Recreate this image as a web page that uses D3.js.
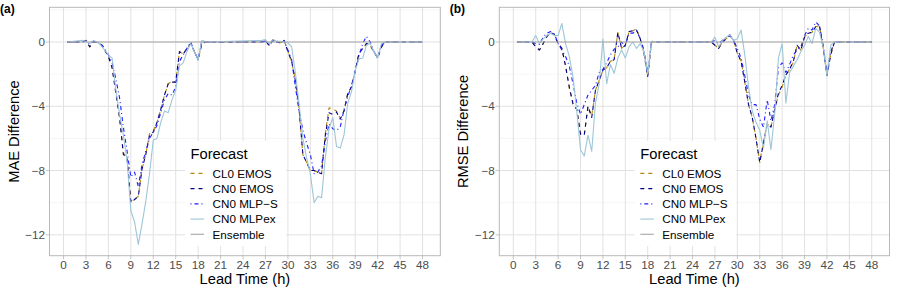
<!DOCTYPE html>
<html><head><meta charset="utf-8">
<script src="https://cdn.jsdelivr.net/npm/d3@7"></script>
<style>
body{margin:0;background:#fff}
svg{display:block}
text{font-family:"Liberation Sans",Arial,Helvetica,sans-serif}
</style>
</head><body>
<svg id="chart" width="899" height="295"></svg>
<script>
// ---------------- DATA ----------------
const leadTime = [0.5,
  2.5,3,3.5,4,4.5,5,5.5,6,6.5,7,7.5,8,8.5,9,9.5,10,10.5,11,11.5,12,12.5,13,13.5,14,14.5,15,15.5,16,16.5,17,17.5,18,18.5,19,
  26.5,27,27.5,28,28.5,29,29.5,30,30.5,31,31.5,32,32.5,33,33.5,34,34.5,35,35.5,36,36.5,37,37.5,38,38.5,39,39.5,40,40.5,41,41.5,42,42.5,43,
  48];

const seriesNames = ["CL0 EMOS", "CN0 EMOS", "CN0 MLP\u2212S", "CN0 MLPex", "Ensemble"];
const xTicks = [0,3,6,9,12,15,18,21,24,27,30,33,36,39,42,45,48];
const yTicks = [0,-4,-8,-12];
const yMinor = [2,-2,-6,-10];

// Panel (a): MAE difference
const maeCL0 = [0,
  0,0.1,-0.3,0.0,0.0,-0.15,-0.5,-0.9,-1.6,-3.1,-4.7,-6.9,-7.2,-9.9,-9.8,-9.6,-7.9,-7.0,-5.7,-5.55,-5.0,-4.2,-3.3,-2.6,-2.45,-2.5,-0.6,-0.75,-0.4,-0.1,-0.6,-1.1,-0.05,0,
  0,0.1,-0.2,0.15,0.0,-0.05,0.1,-0.6,-1.2,-2.4,-4.2,-7.0,-7.5,-8.0,-8.0,-8.1,-8.2,-5.7,-4.1,-4.15,-4.3,-4.75,-4.3,-3.2,-2.8,-1.8,-0.7,-0.4,-0.1,-0.2,-0.6,-1.0,-0.3,0,
  0];
const maeCN0 = [0,
  0,0.1,-0.3,0.0,0.0,-0.15,-0.5,-0.9,-1.6,-3.2,-4.7,-7.0,-7.2,-10.0,-9.8,-9.6,-7.9,-7.0,-5.8,-5.6,-5.0,-4.2,-3.3,-2.6,-2.5,-2.5,-0.6,-0.75,-0.4,-0.1,-0.6,-1.1,-0.1,0,
  0,0.1,-0.25,0.15,0.0,-0.05,0.1,-0.6,-1.2,-2.4,-4.2,-7.0,-7.5,-8.0,-8.0,-8.1,-8.2,-5.8,-4.4,-4.5,-4.35,-4.8,-4.3,-3.2,-2.8,-1.8,-0.7,-0.4,-0.1,-0.2,-0.6,-1.0,-0.3,0,
  0];
const maeMLPS = [0,
  0,0.05,-0.15,0.05,0,-0.1,-0.4,-0.8,-1.3,-2.3,-3.5,-5.3,-6.8,-8.4,-8.1,-9.0,-7.6,-6.8,-6.0,-5.6,-5.2,-4.4,-3.6,-3.2,-3.3,-2.8,-1.2,-0.8,-0.4,0.0,-0.6,-1.1,0.1,0,
  0,0.05,-0.15,0.1,0.05,0,0.05,-0.5,-1.1,-2.8,-4.3,-5.5,-6.3,-7.0,-8.2,-8.1,-7.7,-6.2,-5.1,-5.4,-5.5,-5.3,-4.2,-3.4,-2.7,-1.8,-0.9,-0.1,0.35,0.0,-0.6,-1.0,-0.2,0,
  0];
const maeMLPex = [0,
  0.1,0.05,-0.1,0.1,0.0,-0.2,-0.5,-0.8,-1.0,-3.0,-4.5,-5.8,-7.4,-10.5,-11.2,-12.6,-11.3,-9.9,-8.2,-6.1,-6.0,-5.0,-4.3,-4.4,-3.6,-3.0,-1.5,-1.3,-0.6,-0.1,-0.6,-1.1,0.1,0,
  0.1,0.15,-0.1,0.15,0.05,0.05,0.0,-0.05,-0.3,-1.9,-3.9,-6.0,-7.2,-8.2,-10.0,-9.6,-9.7,-7.2,-5.4,-4.7,-6.5,-6.6,-5.8,-3.8,-3.1,-1.8,-1.05,-1.0,-0.2,-0.1,-0.6,-1.0,-0.1,0,
  0];

// Panel (b): RMSE difference
const rmseCL0 = [0,
  0,-0.3,-0.5,-0.1,0.35,0.6,0.45,-0.1,-0.4,-1.5,-2.9,-3.9,-4.2,-5.7,-5.8,-4.0,-4.6,-3.0,-2.4,-1.75,-1.6,-1.2,-1.1,0.6,-0.4,-0.2,0.65,0.7,0.8,0.2,-0.7,-2.15,0.0,0,
  0,-0.2,-0.4,0.0,0.2,0.4,0.1,-0.7,-1.2,-2.5,-3.9,-4.7,-6.0,-7.5,-6.2,-5.1,-5.3,-4.2,-3.3,-2.8,-2.05,-1.7,-1.25,-0.2,-0.5,0.3,0.55,0.6,0.95,1.0,-0.4,-2.1,-0.8,0,
  0];
const rmseCN0 = [0,
  0,-0.3,-0.5,-0.1,0.35,0.6,0.45,-0.1,-0.4,-1.5,-2.8,-3.85,-4.2,-5.75,-5.8,-4.0,-4.7,-3.0,-2.4,-1.75,-1.6,-1.2,-1.1,0.6,-0.4,-0.2,0.65,0.7,0.75,0.2,-0.7,-2.15,0.0,0,
  0,-0.2,-0.4,0.0,0.2,0.4,0.1,-0.7,-1.2,-2.5,-3.9,-4.7,-6.0,-7.5,-6.3,-5.1,-5.3,-4.2,-3.2,-2.7,-2.05,-1.7,-1.2,-0.2,-0.5,0.3,0.55,0.6,0.95,1.0,-0.4,-2.1,-0.8,0,
  0];
const rmseMLPS = [0,
  0,-0.1,-0.15,0.3,0.55,0.65,0.5,-0.1,-0.5,-0.9,-1.5,-2.6,-3.8,-4.5,-3.9,-3.3,-3.0,-2.7,-1.9,-1.7,-1.3,-0.8,-0.45,-0.3,0.0,-0.25,0.55,0.55,0.7,0.2,-0.5,-1.95,0.05,0,
  0,0.1,-0.1,0.1,0.3,0.45,0.1,-0.4,-1.0,-2.1,-3.3,-3.9,-3.9,-4.8,-5.3,-3.6,-4.9,-3.9,-1.6,-1.3,-1.9,-1.4,-0.8,-0.5,-0.3,0.4,0.85,0.75,1.25,1.0,-0.2,-2.0,-0.6,0,
  0];
const rmseMLPex = [0,
  0,0.4,-0.1,0.2,0.4,0.55,0.4,0.4,1.15,-0.1,-0.9,-2.2,-4.3,-6.7,-7.1,-5.8,-6.8,-3.8,-2.6,0.2,-2.6,-1.4,-1.95,-1.0,-0.5,-1.0,-0.3,0.0,-0.4,-0.1,-0.6,-2.0,0.05,0,
  0,0.3,-0.3,0.1,0.3,0.45,0.1,0.2,0.75,-0.8,-2.8,-4.3,-5.0,-5.5,-6.6,-4.9,-6.7,-4.5,-1.0,-0.1,-3.8,-1.9,-1.5,-1.1,-0.6,-0.2,0.35,-0.1,0.85,0.6,-0.3,-2.1,-0.2,0,
  0];

// Ensemble is the reference: difference is zero over the whole lead-time range
const ensembleLead = [0.5, 48];
const ensembleDiff = [0, 0];

// ---------------- STYLE ----------------
const colors = ["#B8860B", "#00008B", "#1E1EFF", "#9DC6D8", "#A6A6A6"];
const dashes = ["4,4", "4,4", "1,3,4,3", null, null];

const svg = d3.select("#chart");

function drawPanel(opts) {
  const {left, right, top, bottom, label, ytitle, vals} = opts;
  const x = d3.scaleLinear().domain([-1.875, 50.375]).range([left, right]);
  const y = d3.scaleLinear().domain([-13.30, 2.16]).range([bottom, top]);
  const g = svg.append("g");

  g.append("rect").attr("x", left).attr("y", top).attr("width", right-left).attr("height", bottom-top).attr("fill", "#fff");

  // minor horizontal grid
  g.selectAll(".ymin").data(yMinor).enter().append("line")
    .attr("x1", left).attr("x2", right).attr("y1", d=>y(d)).attr("y2", d=>y(d))
    .attr("stroke", "#F0F0F0").attr("stroke-width", 0.7);
  // major grid
  g.selectAll(".ymaj").data(yTicks).enter().append("line")
    .attr("x1", left).attr("x2", right).attr("y1", d=>y(d)).attr("y2", d=>y(d))
    .attr("stroke", "#E2E2E2").attr("stroke-width", 1);
  g.selectAll(".xmaj").data(xTicks).enter().append("line")
    .attr("y1", top).attr("y2", bottom).attr("x1", d=>x(d)).attr("x2", d=>x(d))
    .attr("stroke", "#E2E2E2").attr("stroke-width", 1);

  const clipId = "clip" + label.replace(/\W/g, "");
  svg.append("clipPath").attr("id", clipId).append("rect")
    .attr("x", left).attr("y", top).attr("width", right-left).attr("height", bottom-top);

  const line = d3.line().x(d=>x(d[0])).y(d=>y(d[1]));
  const lg = g.append("g").attr("clip-path", `url(#${clipId})`);
  const seriesData = [
    d3.zip(leadTime, vals[0]),
    d3.zip(leadTime, vals[1]),
    d3.zip(leadTime, vals[2]),
    d3.zip(leadTime, vals[3]),
    d3.zip(ensembleLead, ensembleDiff)
  ];
  seriesData.forEach((d, i) => {
    lg.append("path").datum(d).attr("d", line)
      .attr("fill", "none").attr("stroke", colors[i]).attr("stroke-width", 1.1)
      .attr("stroke-linejoin", "round")
      .attr("stroke-dasharray", dashes[i]);
  });

  // legend
  const lx = left + 135.5;
  g.append("rect").attr("x", lx).attr("y", 141).attr("width", 101).attr("height", 105).attr("fill", "#fff");
  g.append("text").attr("x", lx + 5.5).attr("y", 158.5).attr("font-size", "14.7px").attr("fill", "#000").text("Forecast");
  seriesNames.forEach((n, i) => {
    const by = 177.7 + i * 15.22;
    g.append("line").attr("x1", lx + 5.5).attr("x2", lx + 19).attr("y1", by - 4.3).attr("y2", by - 4.3)
      .attr("stroke", colors[i]).attr("stroke-width", 1.1).attr("stroke-dasharray", dashes[i]);
    g.append("text").attr("x", lx + 27.5).attr("y", by).attr("font-size", "11.7px").attr("fill", "#000").text(n);
  });

  // border
  g.append("rect").attr("x", left).attr("y", top).attr("width", right-left).attr("height", bottom-top)
    .attr("fill", "none").attr("stroke", "#B8B8B8").attr("stroke-width", 1);

  // axes ticks & labels
  g.selectAll(".xt").data(xTicks).enter().append("line")
    .attr("x1", d=>x(d)).attr("x2", d=>x(d)).attr("y1", bottom).attr("y2", bottom + 3.6)
    .attr("stroke", "#B8B8B8").attr("stroke-width", 0.8);
  g.selectAll(".xl").data(xTicks).enter().append("text")
    .attr("x", d=>x(d)).attr("y", 269.3).attr("text-anchor", "middle")
    .attr("font-size", "11.7px").attr("fill", "#4D4D4D").text(d=>d);
  g.selectAll(".yt").data(yTicks).enter().append("line")
    .attr("x1", left - 3.6).attr("x2", left).attr("y1", d=>y(d)).attr("y2", d=>y(d))
    .attr("stroke", "#B8B8B8").attr("stroke-width", 0.8);
  g.selectAll(".yl").data(yTicks).enter().append("text")
    .attr("x", left - 4.5).attr("y", d=>y(d) + 4.2).attr("text-anchor", "end")
    .attr("font-size", "11.7px").attr("fill", "#4D4D4D").text(d => d < 0 ? "\u2212" + Math.abs(d) : d);

  // titles
  g.append("text").attr("x", (left+right)/2).attr("y", 283.5).attr("text-anchor", "middle")
    .attr("font-size", "14.7px").attr("fill", "#000").text("Lead Time (h)");
  g.append("text").attr("transform", `translate(${left - 31},${(top+bottom)/2}) rotate(-90)`)
    .attr("text-anchor", "middle").attr("font-size", "14.7px").attr("fill", "#000").text(ytitle);
  g.append("text").attr("x", left - 49.5).attr("y", 13).attr("font-size", "12px").attr("font-weight", "bold")
    .attr("fill", "#000").text(label);
}

drawPanel({left: 49.5, right: 440.3, top: 7.3, bottom: 255.7, label: "(a)", ytitle: "MAE Difference",
  vals: [maeCL0, maeCN0, maeMLPS, maeMLPex]});
drawPanel({left: 499.3, right: 889.5, top: 7.3, bottom: 255.7, label: "(b)", ytitle: "RMSE Difference",
  vals: [rmseCL0, rmseCN0, rmseMLPS, rmseMLPex]});
</script>
</body></html>
